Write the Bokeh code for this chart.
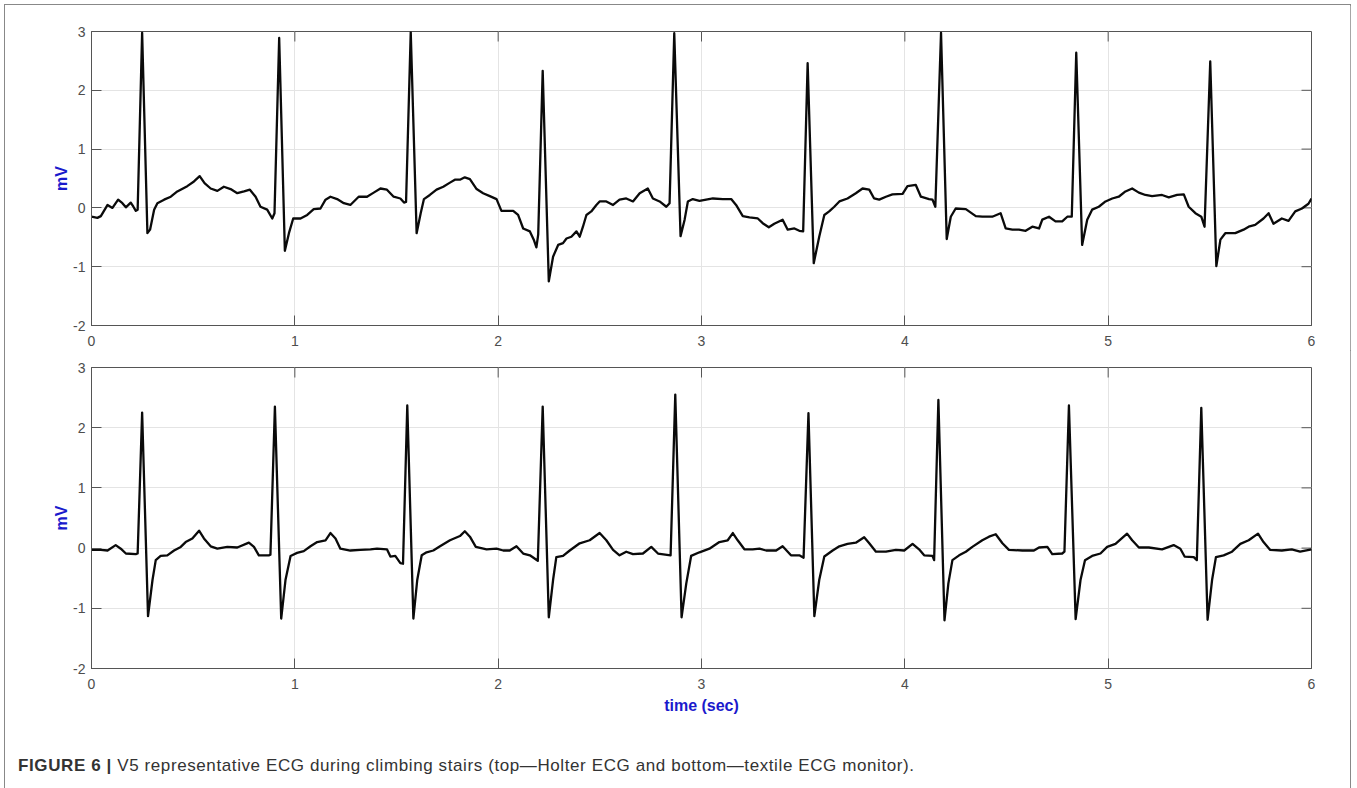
from bokeh.plotting import figure
from bokeh.models import FixedTicker, Div
from bokeh.layouts import column
from bokeh.embed import file_html
from bokeh.resources import INLINE

# ---------------- data (time in s, amplitude in mV) ----------------
x_ticks = [0, 1, 2, 3, 4, 5, 6]
y_ticks = [-2, -1, 0, 1, 2, 3]
y_tick_labels = {-2: "-2", -1: "-1", 0: "0", 1: "1", 2: "2", 3: "3"}

top_trace = [
    (0.000, -0.15), (0.029, -0.17), (0.046, -0.14), (0.079, 0.05), (0.103, 0.00), (0.131, 0.14),
    (0.152, 0.08), (0.169, 0.01), (0.193, 0.09), (0.206, 0.02), (0.218, -0.05), (0.227, -0.03),
    (0.249, 2.98), (0.275, -0.43), (0.288, -0.37), (0.308, -0.03), (0.324, 0.08), (0.357, 0.14),
    (0.390, 0.19), (0.422, 0.28), (0.471, 0.37), (0.504, 0.45), (0.532, 0.54), (0.556, 0.42),
    (0.586, 0.33), (0.619, 0.29), (0.651, 0.36), (0.684, 0.32), (0.717, 0.25), (0.750, 0.28),
    (0.779, 0.31), (0.807, 0.19), (0.831, 0.02), (0.864, -0.03), (0.889, -0.18), (0.900, -0.09),
    (0.923, 2.89), (0.951, -0.73), (0.971, -0.43), (0.992, -0.18), (1.028, -0.18), (1.061, -0.12),
    (1.093, -0.02), (1.126, -0.01), (1.151, 0.14), (1.175, 0.19), (1.208, 0.15), (1.241, 0.08),
    (1.273, 0.05), (1.314, 0.19), (1.355, 0.19), (1.388, 0.26), (1.421, 0.33), (1.453, 0.31),
    (1.486, 0.19), (1.519, 0.16), (1.537, 0.09), (1.547, 0.10), (1.570, 2.99), (1.599, -0.43),
    (1.619, -0.09), (1.635, 0.15), (1.664, 0.22), (1.697, 0.31), (1.730, 0.36), (1.763, 0.43),
    (1.787, 0.48), (1.812, 0.48), (1.836, 0.52), (1.861, 0.49), (1.894, 0.32), (1.926, 0.25),
    (1.959, 0.20), (1.992, 0.15), (2.016, -0.05), (2.074, -0.05), (2.098, -0.12), (2.123, -0.35),
    (2.156, -0.40), (2.175, -0.54), (2.188, -0.67), (2.197, -0.45), (2.219, 2.33), (2.249, -1.25),
    (2.270, -0.83), (2.295, -0.63), (2.319, -0.60), (2.336, -0.52), (2.360, -0.49), (2.385, -0.40),
    (2.401, -0.49), (2.417, -0.32), (2.434, -0.12), (2.458, -0.06), (2.483, 0.05), (2.499, 0.11),
    (2.532, 0.11), (2.565, 0.05), (2.597, 0.14), (2.630, 0.16), (2.663, 0.11), (2.696, 0.25),
    (2.736, 0.33), (2.761, 0.16), (2.794, 0.11), (2.827, 0.02), (2.843, 0.08), (2.866, 2.97),
    (2.897, -0.48), (2.917, -0.20), (2.933, 0.11), (2.957, 0.15), (2.990, 0.12), (3.023, 0.14),
    (3.056, 0.16), (3.105, 0.15), (3.146, 0.15), (3.170, 0.05), (3.203, -0.14), (3.236, -0.16),
    (3.277, -0.18), (3.301, -0.26), (3.331, -0.33), (3.358, -0.27), (3.399, -0.20), (3.424, -0.37),
    (3.457, -0.35), (3.481, -0.39), (3.500, -0.40), (3.522, 2.46), (3.552, -0.94), (3.579, -0.49),
    (3.604, -0.12), (3.628, -0.06), (3.653, 0.02), (3.678, 0.11), (3.718, 0.16), (3.759, 0.25),
    (3.792, 0.33), (3.825, 0.31), (3.849, 0.16), (3.874, 0.14), (3.907, 0.19), (3.939, 0.23),
    (3.989, 0.24), (4.013, 0.37), (4.054, 0.39), (4.079, 0.19), (4.119, 0.15), (4.136, 0.14),
    (4.150, 0.02), (4.178, 2.98), (4.206, -0.53), (4.226, -0.15), (4.250, -0.01), (4.300, -0.02),
    (4.349, -0.14), (4.381, -0.15), (4.430, -0.15), (4.471, -0.09), (4.496, -0.35), (4.529, -0.37),
    (4.561, -0.37), (4.594, -0.39), (4.627, -0.32), (4.660, -0.35), (4.676, -0.20), (4.709, -0.15),
    (4.741, -0.23), (4.774, -0.23), (4.799, -0.15), (4.821, -0.15), (4.843, 2.64), (4.872, -0.63),
    (4.897, -0.20), (4.921, -0.03), (4.954, 0.02), (4.987, 0.11), (5.020, 0.16), (5.052, 0.19),
    (5.085, 0.28), (5.118, 0.33), (5.151, 0.26), (5.183, 0.22), (5.216, 0.20), (5.265, 0.22),
    (5.298, 0.18), (5.339, 0.22), (5.372, 0.23), (5.396, 0.02), (5.429, -0.09), (5.458, -0.15),
    (5.474, -0.32), (5.502, 2.49), (5.532, -0.99), (5.552, -0.54), (5.576, -0.43), (5.625, -0.43),
    (5.666, -0.37), (5.691, -0.32), (5.723, -0.29), (5.764, -0.18), (5.789, -0.09), (5.813, -0.27),
    (5.854, -0.18), (5.887, -0.22), (5.920, -0.06), (5.953, -0.01), (5.985, 0.07), (6.000, 0.16),
]

bottom_trace = [
    (0.000, -0.03), (0.046, -0.03), (0.079, -0.04), (0.119, 0.05), (0.144, -0.01), (0.169, -0.09),
    (0.218, -0.10), (0.227, -0.09), (0.249, 2.25), (0.278, -1.13), (0.300, -0.53), (0.316, -0.20),
    (0.340, -0.13), (0.373, -0.12), (0.406, -0.04), (0.439, 0.02), (0.463, 0.10), (0.496, 0.16),
    (0.529, 0.29), (0.553, 0.16), (0.586, 0.03), (0.619, -0.01), (0.668, 0.02), (0.717, 0.01),
    (0.774, 0.09), (0.799, 0.02), (0.823, -0.12), (0.872, -0.12), (0.880, -0.11), (0.902, 2.35),
    (0.933, -1.17), (0.954, -0.53), (0.979, -0.13), (1.011, -0.08), (1.044, -0.05), (1.077, 0.03),
    (1.110, 0.10), (1.151, 0.13), (1.175, 0.25), (1.200, 0.16), (1.224, -0.01), (1.273, -0.04),
    (1.322, -0.03), (1.372, -0.02), (1.404, -0.01), (1.453, -0.02), (1.470, -0.14), (1.494, -0.13),
    (1.519, -0.25), (1.532, -0.26), (1.553, 2.37), (1.583, -1.17), (1.602, -0.53), (1.624, -0.12),
    (1.648, -0.07), (1.681, -0.04), (1.714, 0.03), (1.763, 0.13), (1.812, 0.20), (1.836, 0.28),
    (1.861, 0.19), (1.890, 0.02), (1.943, -0.02), (1.992, -0.01), (2.025, -0.04), (2.057, -0.04),
    (2.090, 0.03), (2.123, -0.09), (2.156, -0.12), (2.195, -0.21), (2.219, 2.35), (2.249, -1.15),
    (2.270, -0.53), (2.286, -0.15), (2.319, -0.13), (2.352, -0.04), (2.401, 0.08), (2.450, 0.13),
    (2.499, 0.25), (2.532, 0.13), (2.565, -0.03), (2.597, -0.12), (2.630, -0.06), (2.663, -0.10),
    (2.712, -0.09), (2.753, 0.02), (2.786, -0.09), (2.848, -0.12), (2.871, 2.55), (2.902, -1.15),
    (2.925, -0.59), (2.949, -0.13), (2.990, -0.07), (3.039, -0.01), (3.088, 0.10), (3.129, 0.13),
    (3.154, 0.25), (3.178, 0.13), (3.211, -0.02), (3.252, -0.02), (3.285, -0.01), (3.318, -0.04),
    (3.367, -0.04), (3.399, 0.03), (3.440, -0.12), (3.481, -0.12), (3.502, -0.16), (3.526, 2.24),
    (3.555, -1.13), (3.579, -0.53), (3.604, -0.14), (3.645, -0.04), (3.678, 0.03), (3.718, 0.07),
    (3.759, 0.09), (3.800, 0.18), (3.825, 0.08), (3.858, -0.06), (3.907, -0.06), (3.956, -0.03),
    (3.997, -0.04), (4.038, 0.07), (4.070, -0.02), (4.095, -0.12), (4.136, -0.13), (4.144, -0.20),
    (4.165, 2.46), (4.195, -1.20), (4.214, -0.59), (4.234, -0.20), (4.267, -0.12), (4.300, -0.06),
    (4.332, 0.02), (4.381, 0.13), (4.414, 0.19), (4.447, 0.23), (4.480, 0.08), (4.512, -0.03),
    (4.578, -0.04), (4.635, -0.04), (4.660, 0.01), (4.701, 0.02), (4.725, -0.10), (4.774, -0.09),
    (4.785, -0.06), (4.807, 2.37), (4.840, -1.18), (4.864, -0.53), (4.886, -0.20), (4.921, -0.13),
    (4.962, -0.09), (4.995, 0.02), (5.036, 0.07), (5.093, 0.24), (5.118, 0.13), (5.151, 0.01),
    (5.200, 0.01), (5.265, -0.02), (5.322, 0.05), (5.355, -0.01), (5.376, -0.14), (5.421, -0.15),
    (5.436, -0.20), (5.458, 2.33), (5.489, -1.19), (5.511, -0.53), (5.530, -0.15), (5.568, -0.12),
    (5.609, -0.06), (5.650, 0.07), (5.691, 0.13), (5.737, 0.24), (5.764, 0.10), (5.797, -0.03),
    (5.854, -0.04), (5.903, -0.02), (5.944, -0.06), (6.000, -0.02),
]

y_label = "mV"
x_label = "time (sec)"
caption_bold = "FIGURE 6 |"
caption_text = "V5 representative ECG during climbing stairs (top\u2014Holter ECG and bottom\u2014textile ECG monitor)."

# ---------------- styling ----------------
FONT = "Liberation Sans"
AXIS_COLOR = "#555555"
TICK_LABEL_COLOR = "#4d4d4d"
LABEL_BLUE = "#1a1acc"
FRAME_W = 1222
TICK_PX = 10


def make_panel(trace, frame_h, top_b, bottom_b, with_xlabel):
    t = [a for a, _ in trace]
    v = [b for _, b in trace]
    x0, x1 = x_ticks[0], x_ticks[-1]
    y0, y1 = y_ticks[0], y_ticks[-1]
    p = figure(frame_width=FRAME_W, frame_height=frame_h, x_range=(x0, x1), y_range=(y0, y1),
               output_backend="svg", toolbar_location=None,
               min_border_left=86, min_border_right=39,
               min_border_top=top_b, min_border_bottom=bottom_b)
    p.background_fill_color = "white"
    p.border_fill_color = "white"
    p.outline_line_color = AXIS_COLOR
    p.outline_line_width = 1

    xb = p.xaxis[0]
    yl = p.yaxis[0]
    xb.ticker = FixedTicker(ticks=x_ticks)
    yl.ticker = FixedTicker(ticks=y_ticks)
    yl.major_label_overrides = y_tick_labels
    for ax in (xb, yl):
        ax.major_tick_in = TICK_PX
        ax.major_tick_out = 0
        ax.minor_tick_line_color = None
        ax.axis_line_color = AXIS_COLOR
        ax.major_tick_line_color = AXIS_COLOR
        ax.major_label_text_font = FONT
        ax.major_label_text_color = TICK_LABEL_COLOR
        ax.major_label_text_font_size = "14px"
    xb.major_label_standoff = 10
    yl.major_label_standoff = 6

    yl.axis_label = y_label
    yl.axis_label_text_font = FONT
    yl.axis_label_text_font_style = "bold"
    yl.axis_label_text_font_size = "16px"
    yl.axis_label_text_color = LABEL_BLUE
    yl.axis_label_standoff = 0

    if with_xlabel:
        xb.axis_label = x_label
        xb.axis_label_text_font = FONT
        xb.axis_label_text_font_style = "bold"
        xb.axis_label_text_font_size = "16px"
        xb.axis_label_text_color = LABEL_BLUE
        xb.axis_label_standoff = 5

    p.xgrid.ticker = FixedTicker(ticks=x_ticks)
    p.ygrid.ticker = FixedTicker(ticks=y_ticks)
    p.xgrid.grid_line_color = "#e4e4e4"
    p.ygrid.grid_line_color = "#e4e4e4"

    # box-style inward ticks on the top and right edges (MATLAB "box on")
    dy = TICK_PX * (y1 - y0) / frame_h
    dx = TICK_PX * (x1 - x0) / FRAME_W
    inner_x = x_ticks[1:-1]
    inner_y = y_ticks[1:-1]
    p.segment(x0=inner_x, y0=[y1] * len(inner_x), x1=inner_x, y1=[y1 - dy] * len(inner_x),
              line_color=AXIS_COLOR, line_width=1)
    p.segment(x0=[x1 - dx] * len(inner_y), y0=inner_y, x1=[x1] * len(inner_y), y1=inner_y,
              line_color=AXIS_COLOR, line_width=1)

    p.line(t, v, line_color="#0a0a0a", line_width=2.3, line_join="round")
    return p


p1 = make_panel(top_trace, 294, 26, 25, False)
p2 = make_panel(bottom_trace, 301, 17, 52, True)

caption = Div(
    text=f"<b>{caption_bold}</b> {caption_text}",
    width=1347, height=80,
    styles={"font-family": "Liberation Sans, Arial, sans-serif", "font-size": "17px",
            "letter-spacing": "0.6px", "color": "#333333",
            "padding-left": "8px", "padding-top": "31px",
            "line-height": "20px", "box-sizing": "border-box"},
)

layout = column(p1, p2, caption, width=1347,
                styles={"border": "1px solid #888888", "margin": "4px 0 0 4px",
                        "background-color": "white"})

open("out.html", "w").write(file_html(layout, INLINE))
